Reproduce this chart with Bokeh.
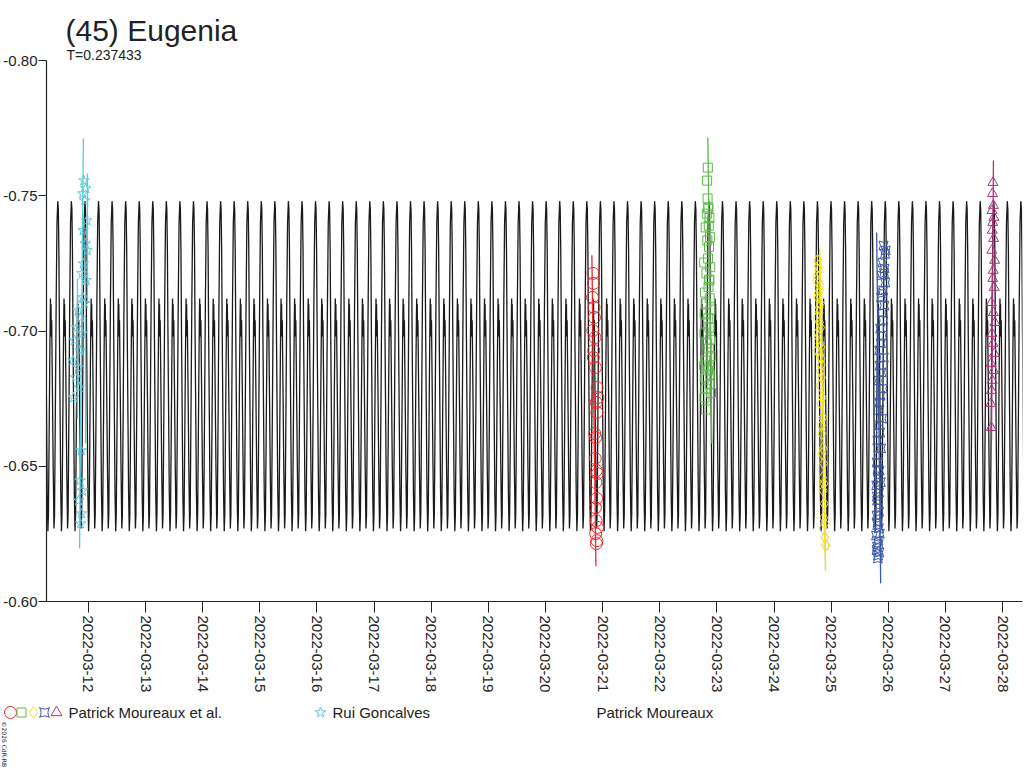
import math
import pandas as pd
from bokeh.plotting import figure
from bokeh.layouts import column
from bokeh.models import (Range1d, FixedTicker, DatetimeTickFormatter, PrintfTickFormatter,
                          Title)
from bokeh.core.properties import value
from bokeh.embed import file_html
from bokeh.resources import INLINE

# ---------------- data ----------------
TITLE = "(45) Eugenia"
PERIOD_TXT = "T=0.237433"
PERIOD_D = 0.237433
MODEL_EPOCH = "2022-03-11 11:07"

# one period of the model light curve (phase, magnitude)
model_phase = [0.00, 0.04, 0.08, 0.12, 0.17, 0.22, 0.27, 0.31, 0.36, 0.41, 0.44, 0.46,
               0.48, 0.50, 0.52, 0.55, 0.60, 0.66, 0.72, 0.76, 0.82, 0.88, 0.94]
model_mag = [-0.748, -0.745, -0.730, -0.700, -0.670, -0.640, -0.626, -0.632, -0.660, -0.690,
             -0.705, -0.712, -0.700, -0.710, -0.698, -0.704, -0.680, -0.650, -0.627, -0.632,
             -0.670, -0.710, -0.740]

tick_dates = ["2022-03-%02d" % d for d in range(12, 29)]
y_ticks = [-0.80, -0.75, -0.70, -0.65, -0.60]

# Rui Goncalves (cyan stars)
cyan_start = "2022-03-11 16:52"
cyan_hours = [5.2, 6.0, 4.7, 5.6, 6.4, 4.9, 5.8, 6.6, 5.0, 4.4, 6.2, 4.8, 5.4, 2.8, 3.9,
              2.2, 4.5, 1.3, 3.6, 0.6, 2.9, 1.8, 3.2, 0.9, 4.1, 3.6, 4.6, 3.0, 4.2, 3.8]
cyan_mag = [-0.7556, -0.7527, -0.7508, -0.7482, -0.7408, -0.7372, -0.7323, -0.7298, -0.7249,
            -0.7213, -0.7187, -0.7124, -0.7102, -0.7076, -0.7050, -0.7013, -0.6991, -0.6965,
            -0.6928, -0.6891, -0.6865, -0.6828, -0.6791, -0.6754, -0.6558, -0.6447, -0.6410,
            -0.6373, -0.6325, -0.6288]
cyan_bar_h0 = [5.0, 2.5, 6.7, 5.9]
cyan_bar_m0 = [-0.7712, -0.7194, -0.7582, -0.7050]
cyan_bar_h1 = [3.4, 2.5, 6.7, 5.9]
cyan_bar_m1 = [-0.6196, -0.6676, -0.7102, -0.6584]

# Patrick Moureaux et al. (five nights)
red_start = "2022-03-20 19:05"
red_hours = [0.9, 1.1, 0.7, 1.3, 1.5, 0.8, 1.7, 1.2, 1.0, 1.9, 2.6, 2.9, 2.2, 2.5, 1.6, 2.0,
             1.8, 2.3, 2.7, 2.1, 2.4, 1.9, 2.2, 2.8, 2.0, 2.5, 2.3]
red_mag = [-0.7213, -0.7176, -0.7124, -0.7087, -0.7050, -0.7002, -0.6976, -0.6928, -0.6902,
           -0.6865, -0.6791, -0.6754, -0.6736, -0.6699, -0.6621, -0.6606, -0.6529, -0.6484,
           -0.6473, -0.6440, -0.6381, -0.6347, -0.6299, -0.6274, -0.6251, -0.6225, -0.6214]
red_bar = [0.4, -0.728, 2.1, -0.613]

green_start = "2022-03-22 18:30"
green_hours = [1.7, 1.4, 1.6, 1.9, 1.3, 0.8, 1.5, 0.2, 1.1, 2.3, 0.5, 1.0, 0.4, 0.9, 0.3, 1.2,
               0.6, 0.2, 1.8, 0.4, 0.7, 0.3, 0.9,
               1.9, 2.4, 2.1, 2.6, 2.2, 1.8, 2.7, 2.3, 2.0, 2.5, 2.8, 1.9, 2.4, 2.6, 2.1, 2.9,
               2.3, 2.7, 2.5, 3.0]
green_mag = [-0.7604, -0.7556, -0.7490, -0.7457, -0.7434, -0.7383, -0.7335, -0.7253, -0.7213,
             -0.7187, -0.7142, -0.7102, -0.7065, -0.7028, -0.6991, -0.6954, -0.6891, -0.6872,
             -0.6854, -0.6828, -0.6787, -0.6754, -0.6710,
             -0.7452, -0.7418, -0.7389, -0.7347, -0.7311, -0.7268, -0.7236, -0.7190, -0.7163,
             -0.7121, -0.7079, -0.7047, -0.7012, -0.6968, -0.6935, -0.6907, -0.6866, -0.6839,
             -0.6803, -0.6771]
green_bar = [1.7, -0.7715, 3.4, -0.6584]

yellow_start = "2022-03-24 17:30"
yellow_hours = [0.8, 1.3, 0.4, 1.7, 0.9, 1.5, 0.6, 2.1, 1.2, 1.8, 0.7, 2.3, 2.5, 1.9, 2.8, 2.2,
                3.0, 2.4, 2.6, 3.1, 2.7, 3.3, 2.9, 3.5, 3.2, 3.6, 3.4, 3.8, 3.9, 4.0,
                1.1, 0.5, 1.9, 1.0, 2.0, 1.4, 1.6, 0.9, 2.2, 1.7, 2.4, 2.0]
yellow_mag = [-0.7261, -0.7224, -0.7187, -0.7150, -0.7124, -0.7087, -0.7050, -0.7013, -0.6976,
              -0.6954, -0.6928, -0.6898, -0.6828, -0.6798, -0.6754, -0.6732, -0.6680, -0.6651,
              -0.6621, -0.6566, -0.6547, -0.6510, -0.6458, -0.6436, -0.6410, -0.6362, -0.6310,
              -0.6288, -0.6237, -0.6207,
              -0.7240, -0.7205, -0.7168, -0.7139, -0.7101, -0.7068, -0.7032, -0.6995, -0.6940,
              -0.6912, -0.6875, -0.6850]
yellow_bar = [1.7, -0.7305, 4.2, -0.6115]

blue_start = "2022-03-25 17:25"
blue_hours = [4.6, 5.5, 4.2, 5.0, 3.8, 5.3, 4.4, 3.6, 4.9, 3.9, 4.5, 3.2, 4.1, 3.5, 2.8, 4.7,
              3.0, 3.7, 2.5, 4.3, 3.3, 2.9, 2.2, 3.9, 2.6, 3.1, 2.0, 3.5, 2.4, 1.8, 2.9, 2.2,
              1.6, 2.7, 1.9, 2.4, 1.7, 2.1, 2.6, 1.5, 2.3, 1.9, 2.8, 2.2,
              5.2, 4.8, 4.0, 2.1, 3.4, 1.8, 2.7, 2.0, 3.0, 2.5, 1.7, 2.3]
blue_mag = [-0.7316, -0.7298, -0.7253, -0.7231, -0.7205, -0.7179, -0.7150, -0.7124, -0.7094,
            -0.7068, -0.7039, -0.7009, -0.6983, -0.6954, -0.6928, -0.6902, -0.6872, -0.6847,
            -0.6817, -0.6787, -0.6761, -0.6736, -0.6706, -0.6676, -0.6651, -0.6625, -0.6595,
            -0.6566, -0.6540, -0.6514, -0.6484, -0.6455, -0.6429, -0.6403, -0.6373, -0.6347,
            -0.6318, -0.6292, -0.6270, -0.6244, -0.6225, -0.6203, -0.6181, -0.6159,
            -0.7285, -0.7214, -0.7140, -0.6490, -0.6441, -0.6388, -0.6332, -0.6283, -0.6251,
            -0.6212, -0.6190, -0.6170]
blue_bar = [1.7, -0.7364, 3.4, -0.6067]

magenta_start = "2022-03-27 17:41"
magenta_hours = [2.3, 2.1, 2.5, 1.9, 2.7, 2.2, 2.0, 2.6, 1.8, 3.0, 2.4, 2.2, 2.8, 1.6, 2.5,
                 3.1, 1.9, 2.3, 2.9, 1.5, 2.6, 2.0, 1.7, 1.4, 1.6]
magenta_mag = [-0.7549, -0.7508, -0.7464, -0.7445, -0.7420, -0.7401, -0.7372, -0.7342, -0.7298,
               -0.7261, -0.7224, -0.7194, -0.7161, -0.7105, -0.7068, -0.7031, -0.6991, -0.6954,
               -0.6917, -0.6880, -0.6854, -0.6817, -0.6780, -0.6732, -0.6643]
magenta_bar = [2.5, -0.7630, 1.7, -0.6595]

# Patrick Moureaux (light grey)
grey_start = "2022-03-24 17:30"
grey_hours = [2.9, 3.8, 4.6]
grey_mag = [-0.6270, -0.6237, -0.6207]
grey_bar = [3.6, -0.6330, 4.1, -0.6115]

legend_labels = ["Patrick Moureaux et al.", "Rui Goncalves", "Patrick Moureaux"]
copyright_txt = "\u00a92026 CdR-RB"

# ---------------- helpers ----------------
DAY_MS = 86400000.0


def ms(s):
    return pd.Timestamp(s).value / 1e6


def times(start, hours):
    s = ms(start)
    return [s + h * 3600000.0 for h in hours]


# ---------------- layout (page has no margin: figure starts at 0,0) ----------------
W = 1024
MAIN_H, LEG_H = 700, 68
FL, FR, FT, FB = 45, 1022, 60, 601          # frame edges in pixels
TICK12_PX, PX_PER_DAY = 87.0, 57.1875
x0 = ms("2022-03-12") - (TICK12_PX - FL) / PX_PER_DAY * DAY_MS
x1 = ms("2022-03-12") + (FR - TICK12_PX) / PX_PER_DAY * DAY_MS

FONT = "Liberation Sans"
INK = "#222222"

p = figure(width=W, height=MAIN_H, x_axis_type="datetime", output_backend="svg",
           toolbar_location=None, title=None,
           min_border_left=FL, min_border_right=W - FR,
           min_border_top=FT, min_border_bottom=MAIN_H - FB,
           x_range=Range1d(x0, x1), y_range=Range1d(-0.60, -0.80))
p.outline_line_color = None
p.xgrid.visible = False
p.ygrid.visible = False
p.background_fill_color = "white"
p.border_fill_color = "white"

# titles (subtitle is added first so that it sits next to the frame)
p.add_layout(Title(text=PERIOD_TXT, align="left", offset=20, standoff=-4,
                   text_font=FONT, text_font_size="14px", text_font_style="normal",
                   text_color=INK), "above")
p.add_layout(Title(text=TITLE, align="left", offset=19, standoff=0,
                   text_font=FONT, text_font_size="30px", text_font_style="normal",
                   text_color=INK), "above")

# model curve
T_MS = PERIOD_D * DAY_MS
ep = ms(MODEL_EPOCH)
mx, my = [], []
for k in range(-3, 74):
    for ph, m in zip(model_phase, model_mag):
        mx.append(ep + (k + ph) * T_MS)
        my.append(m)
p.line(mx, my, line_color="#1a1a1a", line_width=1.3)


def bar(start, b, color):
    t = times(start, [b[0], b[2]])
    p.segment(x0=[t[0]], y0=[b[1]], x1=[t[1]], y1=[b[3]], line_color=color, line_width=1.3)


# light grey series
bar(grey_start, grey_bar, "#cfcfcf")
p.scatter(times(grey_start, grey_hours), grey_mag, marker="diamond", size=11,
          fill_color=None, line_color="#d4d4d4", line_width=1)

CYAN = "#5cc8dc"
RED, GREEN, YELLOW, BLUE, MAGENTA = "#f0282a", "#5cba48", "#f5e612", "#3c58a8", "#b0307e"

ct0 = times(cyan_start, cyan_bar_h0)
ct1 = times(cyan_start, cyan_bar_h1)
p.segment(x0=ct0, y0=cyan_bar_m0, x1=ct1, y1=cyan_bar_m1, line_color=CYAN, line_width=1.3)
p.scatter(times(cyan_start, cyan_hours), cyan_mag, marker="star", size=11,
          fill_color=None, line_color=CYAN, line_width=1)

bar(red_start, red_bar, RED)
p.scatter(times(red_start, red_hours), red_mag, marker="circle", size=12,
          fill_color=None, line_color=RED, line_width=1)
bar(green_start, green_bar, GREEN)
p.scatter(times(green_start, green_hours), green_mag, marker="square", size=9,
          fill_color=None, line_color=GREEN, line_width=1)
bar(yellow_start, yellow_bar, YELLOW)
p.scatter(times(yellow_start, yellow_hours), yellow_mag, marker="diamond", size=12,
          fill_color=None, line_color=YELLOW, line_width=1)
bar(blue_start, blue_bar, BLUE)
p.scatter(times(blue_start, blue_hours), blue_mag, marker="square_pin", size=9,
          fill_color=None, line_color=BLUE, line_width=1)
bar(magenta_start, magenta_bar, MAGENTA)
p.scatter(times(magenta_start, magenta_hours), magenta_mag, marker="triangle", size=10,
          fill_color=None, line_color=MAGENTA, line_width=1)

# axes
xa = p.xaxis[0]
xa.ticker = FixedTicker(ticks=[ms(d) for d in tick_dates])
fmt = "%Y-%m-%d"
xa.formatter = DatetimeTickFormatter(microseconds=fmt, milliseconds=fmt, seconds=fmt,
                                     minsec=fmt, minutes=fmt, hourmin=fmt, hours=fmt,
                                     days=fmt, months=fmt, years=fmt)
xa.major_label_orientation = -math.pi / 2
ya = p.yaxis[0]
ya.ticker = FixedTicker(ticks=y_ticks)
ya.formatter = PrintfTickFormatter(format="%.2f")
for ax in (xa, ya):
    ax.axis_line_color = INK
    ax.axis_line_width = 1.2
    ax.major_tick_line_color = INK
    ax.major_tick_in = 0
    ax.minor_tick_line_color = None
    ax.major_label_text_font = FONT
    ax.major_label_text_font_size = "15px"
    ax.major_label_text_color = INK
xa.major_tick_out = 11
xa.major_label_standoff = 3
ya.major_tick_out = 8
ya.major_label_standoff = 1

# ---------------- legend strip (pixel coordinates, y downwards) ----------------
lg = figure(width=W, height=LEG_H, output_backend="svg", toolbar_location=None,
            x_axis_location=None, y_axis_location=None, title=None,
            x_range=Range1d(0, W), y_range=Range1d(LEG_H, 0), min_border=0)
lg.xgrid.visible = False
lg.ygrid.visible = False
lg.outline_line_color = None
for fig in (p, lg):
    try:
        fig.frame_align = False
    except Exception:
        pass
LY = 12
sym_x = [10, 21, 33, 44, 56, 320]
sym_marker = ["circle", "square", "diamond", "square_pin", "triangle", "star"]
sym_size = [12, 9, 12, 10, 11, 11]
sym_color = [RED, GREEN, YELLOW, BLUE, MAGENTA, CYAN]
lg.scatter(x=sym_x, y=[LY] * 6, marker=sym_marker, size=sym_size, fill_color=None,
           line_color=sym_color, line_width=1)
lg.text(x=[68, 332, 596], y=[LY] * 3, text=legend_labels, text_font=value(FONT),
        text_font_size=value("15px"), text_color=INK, text_baseline="middle",
        text_align="left")
lg.text(x=[4], y=[21], text=[copyright_txt], text_font=value("DejaVu Sans"),
        text_font_size=value("6px"), text_color=INK, text_baseline="middle",
        text_align="left", angle=-math.pi / 2)

out = column(p, lg, spacing=0)
open("out.html", "w").write(file_html(out, INLINE))
